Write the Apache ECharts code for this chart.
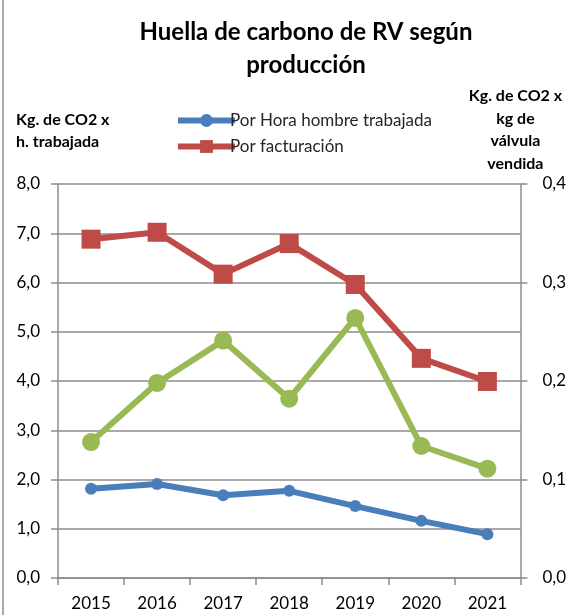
<!DOCTYPE html>
<html>
<head>
<meta charset="utf-8">
<script src="https://cdn.jsdelivr.net/npm/echarts@6/dist/echarts.min.js"></script>
<style>
  html, body { margin: 0; padding: 0; background: #fff; }
  #chart { width: 569px; height: 615px; }
</style>
</head>
<body>
<div id="chart"></div>
<script>
// Years on the category axis
const years = ['2015', '2016', '2017', '2018', '2019', '2020', '2021'];

// Kg CO2 per worked hour (left axis)
const porHora = [1.81, 1.91, 1.68, 1.77, 1.46, 1.16, 0.89];
// Kg CO2 by invoicing (left axis)
const porFacturacion = [6.88, 7.02, 6.17, 6.79, 5.96, 4.46, 3.99];
// Kg CO2 per kg of valve sold (right axis)
const porValvula = [0.138, 0.198, 0.241, 0.182, 0.264, 0.134, 0.111];

const FONT = 'Lato, "Open Sans", sans-serif';
const GRID_COLOR = '#8c8c8c';

const chart = echarts.init(document.getElementById('chart'), null, { renderer: 'canvas' });

const fmt1 = v => v.toFixed(1).replace('.', ',');

chart.setOption({
  backgroundColor: '#ffffff',
  animation: false,
  title: {
    text: 'Huella de carbono de RV según\nproducción',
    left: 301,
    textAlign: 'center',
    top: 11,
    textStyle: {
      fontFamily: FONT,
      fontWeight: 'bold',
      fontSize: 24,
      lineHeight: 33,
      color: '#000'
    }
  },
  legend: {
    data: ['Por Hora hombre trabajada', 'Por facturación'],
    orient: 'vertical',
    left: 170,
    top: 107,
    itemWidth: 57,
    itemHeight: 16,
    itemGap: 9,
    lineStyle: { width: 6 },
    textStyle: { fontFamily: FONT, fontSize: 17, color: '#262626', padding: [0, 0, 0, -10] }
  },
  grid: { left: 58, right: 46, top: 184, bottom: 37, containLabel: false },
  xAxis: {
    type: 'category',
    data: years,
    boundaryGap: true,
    axisLine: { lineStyle: { color: GRID_COLOR, width: 1.5 } },
    axisTick: { show: true, length: 7, lineStyle: { color: GRID_COLOR, width: 1.5 } },
    axisLabel: { fontFamily: FONT, fontSize: 17, color: '#000', margin: 17 }
  },
  yAxis: [
    {
      type: 'value',
      min: 0, max: 8, interval: 1,
      name: 'Kg. de CO2 x\nh. trabajada',
      nameLocation: 'end',
      nameGap: 0,
      nameTextStyle: {
        fontFamily: FONT, fontWeight: 'bold', fontSize: 16, lineHeight: 22,
        color: '#000', align: 'left', verticalAlign: 'bottom',
        padding: [0, 0, 23, -42]
      },
      axisLine: { show: true, lineStyle: { color: GRID_COLOR, width: 1.5 } },
      axisTick: { show: true, length: 7, lineStyle: { color: GRID_COLOR, width: 1.5 } },
      axisLabel: { fontFamily: FONT, fontSize: 17, color: '#000', margin: 18, formatter: fmt1 },
      splitLine: { show: true, lineStyle: { color: GRID_COLOR, width: 1.5 } }
    },
    {
      type: 'value',
      min: 0, max: 0.4, interval: 0.1,
      name: 'Kg. de CO2 x\nkg de\nválvula\nvendida',
      nameLocation: 'end',
      nameGap: 0,
      nameTextStyle: {
        fontFamily: FONT, fontWeight: 'bold', fontSize: 16, lineHeight: 22.5,
        color: '#000', align: 'center', verticalAlign: 'bottom',
        padding: [0, 0, 1, -10]
      },
      axisLine: { show: true, lineStyle: { color: GRID_COLOR, width: 1.5 } },
      axisTick: { show: true, length: 7, lineStyle: { color: GRID_COLOR, width: 1.5 } },
      axisLabel: { fontFamily: FONT, fontSize: 17, color: '#000', margin: 22, formatter: fmt1 },
      splitLine: { show: false }
    }
  ],
  series: [
    {
      name: 'Por Hora hombre trabajada',
      type: 'line',
      yAxisIndex: 0,
      data: porHora,
      symbol: 'circle',
      symbolSize: 12,
      itemStyle: { color: '#4a7ebb' },
      lineStyle: { color: '#4a7ebb', width: 6 },
      z: 3
    },
    {
      name: 'Por facturación',
      type: 'line',
      yAxisIndex: 0,
      data: porFacturacion,
      symbol: 'rect',
      symbolSize: 19,
      itemStyle: { color: '#be4b48' },
      lineStyle: { color: '#be4b48', width: 6 },
      z: 3
    },
    {
      name: 'Por kg de válvula vendida',
      type: 'line',
      yAxisIndex: 1,
      data: porValvula,
      symbol: 'circle',
      symbolSize: 18,
      itemStyle: { color: '#98b954' },
      lineStyle: { color: '#98b954', width: 6 },
      z: 3
    }
  ],
  graphic: [
    {
      type: 'line',
      shape: { x1: 3, y1: 0, x2: 3, y2: 615 },
      style: { stroke: '#8c8c8c', lineWidth: 1.5 }
    }
  ]
});
</script>
</body>
</html>
